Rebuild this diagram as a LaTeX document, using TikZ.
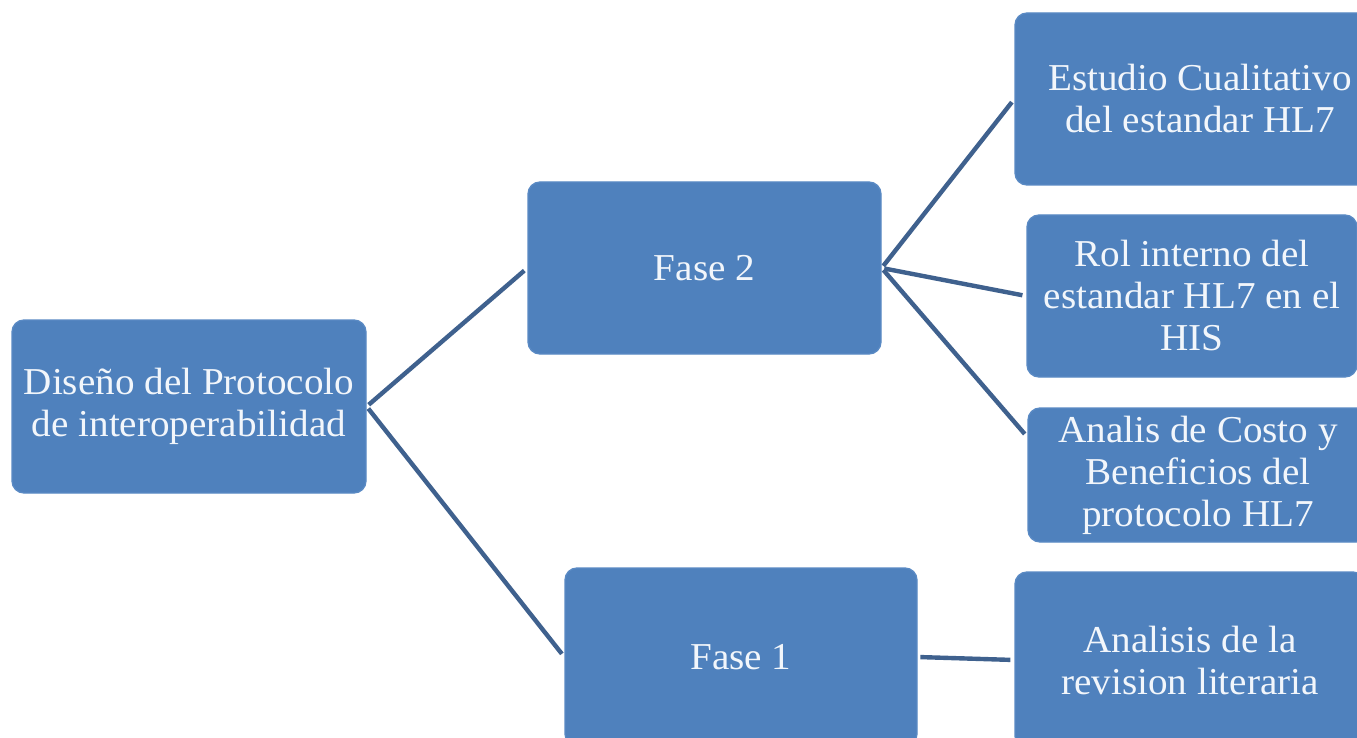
\documentclass[tikz,border=0pt]{standalone}
\usepackage{fontspec}
\setmainfont{Liberation Serif}[FakeStretch=1.03]
\usetikzlibrary{calc}
\definecolor{boxblue}{HTML}{4F81BD}
\definecolor{boxedge}{HTML}{5A8AC4}
\definecolor{linkblue}{HTML}{3F618E}
\definecolor{txt}{HTML}{F2F6FB}
\begin{document}
\begin{tikzpicture}[x=0.75pt,y=-0.75pt,
  box/.style={draw=boxedge,line width=1pt,fill=boxblue,rounded corners=9pt,
    text=txt,align=center,inner sep=0pt,
    font=\fontsize{28.5}{31.5}\selectfont},
  link/.style={draw=linkblue,line width=3.3pt,shorten <=2pt,shorten >=3pt}]
\useasboundingbox (0,0) rectangle (1357,738);
\fill[white] (0,0) rectangle (1357,738);
\clip (0,0) rectangle (1357,738);
\node[box,minimum width=265.5pt,minimum height=129.75pt] (dis) at (189,406.5)
  {Diseño del Protocolo\\de interoperabilidad};
\node[box,minimum width=264.75pt,minimum height=129pt] (f2) at (704.5,268) {Fase 2};
\node[box,minimum width=264pt,minimum height=133.5pt] (f1) at (741,657) {Fase 1};
\node[box,minimum width=277.5pt,minimum height=129pt] (est) at (1200,99)
  {Estudio Cualitativo\\del estandar HL7};
\node[box,minimum width=247.5pt,minimum height=121.5pt] (rol) at (1192,296)
  {Rol interno del\\estandar HL7 en el\\HIS};
\node[box,minimum width=255pt,minimum height=100.5pt] (cos) at (1198,475)
  {Analis de Costo y\\Beneficios del\\protocolo HL7};
\node[box,minimum width=262.5pt,minimum height=132pt] (rev) at (1190,660)
  {Analisis de la\\revision literaria};
\draw[link] (dis.east) -- (f2.west);
\draw[link] (dis.east) -- (f1.west);
\draw[link] (f2.east) -- (est.west);
\draw[link] (f2.east) -- (rol.west);
\draw[link] (f2.east) -- ($(cos.west)+(0,-38)$);
\draw[link] (f1.east) -- (rev.west);
\end{tikzpicture}
\end{document}
